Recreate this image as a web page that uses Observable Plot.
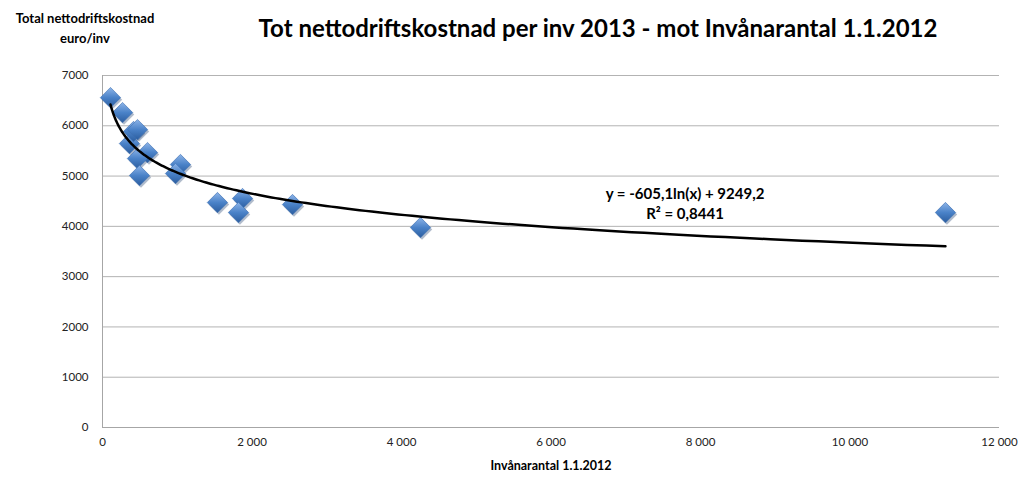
<!DOCTYPE html>
<html>
<head>
<meta charset="utf-8">
<script src="https://cdn.jsdelivr.net/npm/d3@7"></script>
<script src="https://cdn.jsdelivr.net/npm/@observablehq/plot@0.6"></script>
<style>
  html, body { margin: 0; padding: 0; background: #fff; }
  #wrap { position: relative; width: 1021px; height: 478px; font-family: Lato, "Open Sans", sans-serif; }
  #title { position: absolute; left: 0; width: 1196px; top: 13px; text-align: center; font-weight: bold; font-size: 24px; color: #000; }
  #ylab { position: absolute; left: 0; width: 170px; top: 8px; text-align: center; font-weight: bold; font-size: 13px; line-height: 20px; color: #000; }
  #chart { position: absolute; left: 0; top: 0; }
  #eq { position: absolute; left: 570px; width: 230px; top: 183px; text-align: center; font-weight: bold; font-size: 15px; line-height: 20px; color: #000; }
</style>
</head>
<body>
<div id="wrap">
  <div id="chart"></div>
  <div id="title">Tot nettodriftskostnad per inv 2013 - mot Invånarantal 1.1.2012</div>
  <div id="ylab">Total nettodriftskostnad<br>euro/inv</div>
  <div id="eq">y = -605,1ln(x) + 9249,2<br>R² = 0,8441</div>
</div>
<script>
// Data
const inhabitants = [107, 268, 361, 415, 468, 602, 468, 495, 1043, 977, 1538, 1873, 1819, 2542, 4254, 11277];
const costPerInv  = [6560, 6262, 5646, 5885, 5924, 5467, 5348, 5010, 5229, 5050, 4473, 4553, 4274, 4433, 3976, 4274];
const xTicks = [0, 2000, 4000, 6000, 8000, 10000, 12000];
const yTicks = [0, 1000, 2000, 3000, 4000, 5000, 6000, 7000];
// Logarithmic trendline coefficients shown on the chart
const trendA = -605.1;
const trendB = 9249.2;

const points = inhabitants.map((x, i) => ({x, y: costPerInv[i]}));
const xMin = d3.min(inhabitants), xMax = d3.max(inhabitants);
const trend = d3.range(0, 201).map(i => {
  const x = xMin * Math.pow(xMax / xMin, i / 200);
  return {x, y: trendA * Math.log(x) + trendB};
});

const fmtX = d => d3.format(",")(d).replace(/,/g, "\u00a0");

const plot = Plot.plot({
  width: 1021,
  height: 478,
  marginTop: 75,
  marginBottom: 51,
  marginLeft: 102,
  marginRight: 22,
  style: {fontFamily: "Lato, 'Open Sans', sans-serif", fontSize: "11.5px", color: "#222"},
  x: {domain: [0, 12000], ticks: xTicks, tickFormat: fmtX, tickSize: 0, tickPadding: 10, label: null},
  y: {domain: [0, 7000], ticks: yTicks, tickFormat: d => String(d), tickSize: 0, tickPadding: 14, label: null},
  marks: [
    Plot.gridY(yTicks, {stroke: "#b3b3b3", strokeOpacity: 1, strokeWidth: 1}),
    Plot.ruleX([0], {stroke: "#a6a6a6"}),
    Plot.ruleY([0], {stroke: "#a6a6a6"}),
    Plot.axisX({ticks: xTicks, tickFormat: fmtX, tickSize: 0, tickPadding: 10, label: null}),
    Plot.axisY({ticks: yTicks, tickFormat: d => String(d), tickSize: 0, tickPadding: 14, label: null}),
    Plot.dot(points, {x: "x", y: "y", symbol: "diamond2", r: 9.2, fill: "#1f3f6e", fillOpacity: 0.35, dx: 1.5, dy: 2}),
    Plot.dot(points, {x: "x", y: "y", symbol: "diamond2", r: 9.2, fill: "url(#diamGrad)", stroke: "#3a6db0", strokeWidth: 0.6}),
    Plot.line(trend, {x: "x", y: "y", stroke: "#000", strokeWidth: 2.5, curve: "linear"}),
    Plot.text(["Invånarantal 1.1.2012"], {frameAnchor: "bottom", dy: 42, fontWeight: "bold", fontSize: 12.5, fill: "#000"})
  ]
});

// Gradient for the diamonds
const svg = d3.select(plot);
const defs = svg.insert("defs", ":first-child");
const g = defs.append("linearGradient").attr("id", "diamGrad").attr("x1", "0").attr("y1", "0").attr("x2", "0").attr("y2", "1");
g.append("stop").attr("offset", "0%").attr("stop-color", "#8db4e8");
g.append("stop").attr("offset", "50%").attr("stop-color", "#4a82c8");
g.append("stop").attr("offset", "100%").attr("stop-color", "#2b5d9f");

document.getElementById("chart").appendChild(plot);
</script>
</body>
</html>
